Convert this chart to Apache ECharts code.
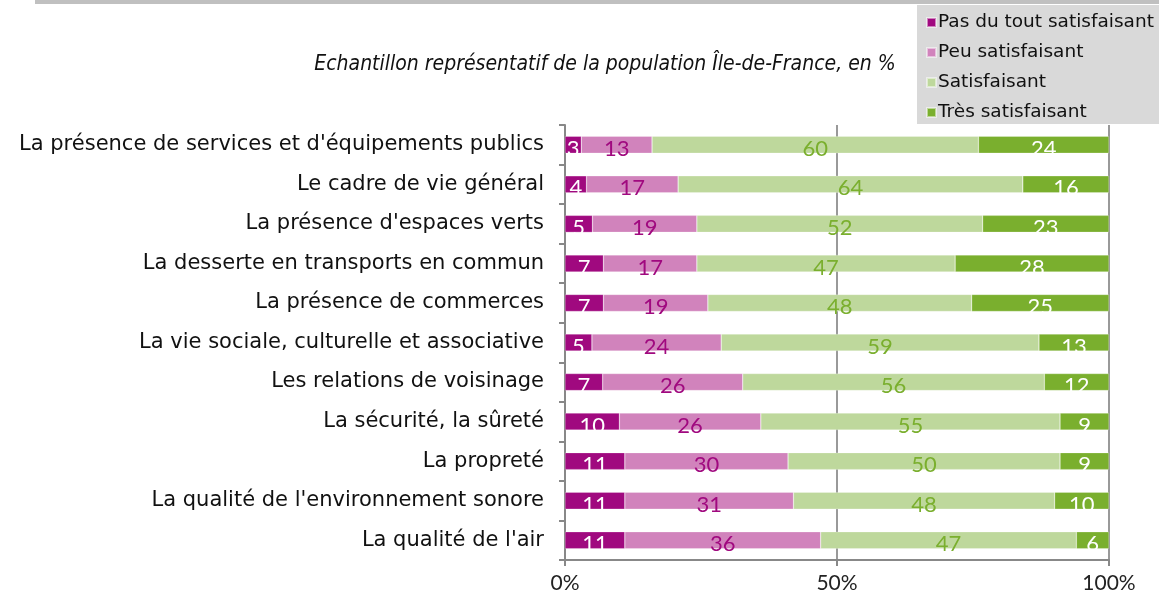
<!DOCTYPE html>
<html>
<head>
<meta charset="utf-8">
<script src="https://cdn.jsdelivr.net/npm/echarts@6/dist/echarts.min.js"></script>
<style>
  html, body { margin: 0; padding: 0; background: #fff; }
  #chart { width: 1159px; height: 598px; }
</style>
</head>
<body>
<div id="chart"></div>
<script>
// categories, top to bottom
const categories = [
  'La présence de services et d\'équipements publics',
  'Le cadre de vie général',
  'La présence d\'espaces verts',
  'La desserte en transports en commun',
  'La présence de commerces',
  'La vie sociale, culturelle et associative',
  'Les relations de voisinage',
  'La sécurité, la sûreté',
  'La propreté',
  'La qualité de l\'environnement sonore',
  'La qualité de l\'air'
]
const seriesNames = ['Pas du tout satisfaisant', 'Peu satisfaisant', 'Satisfaisant', 'Très satisfaisant']
const pasDuTout = [3, 4, 5, 7, 7, 5, 7, 10, 11, 11, 11]
const peu = [13, 17, 19, 17, 19, 24, 26, 26, 30, 31, 36]
const satisfaisant = [60, 64, 52, 47, 48, 59, 56, 55, 50, 48, 47]
const tres = [24, 16, 23, 28, 25, 13, 12, 9, 9, 10, 6]
const xTicks = [0, 50, 100]

const raw = [pasDuTout, peu, satisfaisant, tres]
const colors = ['#a0097f', '#d183bc', '#bed89c', '#7aaf2e']
const labelColors = ['#ffffff', '#a0097f', '#7aaf2e', '#ffffff']

// 100% stacked: each row scaled to its own total
const totals = categories.map((c, i) => raw.reduce((s, arr) => s + arr[i], 0))

const chart = echarts.init(document.getElementById('chart'))
const option = {
  animation: false,
  title: {
    text: 'Echantillon représentatif de la population Île-de-France, en %',
    left: 600,
    top: 49,
    textAlign: 'center',
    textStyle: {
      fontFamily: '"DejaVu Sans Condensed", "Liberation Sans", sans-serif',
      fontStyle: 'italic',
      fontWeight: 'normal',
      fontSize: 21,
      color: '#111'
    }
  },
  graphic: [
    { type: 'rect', shape: { x: 35, y: 0, width: 1124, height: 4 }, style: { fill: '#c0c0c0' } },
    { type: 'rect', shape: { x: 917, y: 5, width: 242, height: 119 }, style: { fill: '#d9d9d9' }, z: -1 }
  ],
  legend: {
    orient: 'vertical',
    left: 921,
    top: 8,
    itemWidth: 9,
    itemHeight: 9,
    itemGap: 11,
    icon: 'rect',
    data: seriesNames,
    textStyle: {
      fontFamily: 'DejaVu Sans',
      fontSize: 18.5,
      lineHeight: 18,
      color: '#111',
      padding: [0, 0, 0, -3]
    }
  },
  grid: {
    left: 565,
    right: 50,
    top: 125,
    bottom: 38
  },
  xAxis: {
    type: 'value',
    min: 0,
    max: 100,
    interval: 50,
    axisLine: { show: true, lineStyle: { color: '#888', width: 2 } },
    axisTick: { show: true, length: 6, lineStyle: { color: '#888', width: 2 } },
    splitLine: { show: true, lineStyle: { color: '#999', width: 2 } },
    axisLabel: {
      margin: 13,
      fontFamily: 'Lato',
      fontSize: 21,
      color: '#222',
      formatter: (v) => xTicks.includes(v) ? v + '%' : ''
    }
  },
  yAxis: {
    type: 'category',
    inverse: true,
    data: categories,
    axisLine: { show: true, lineStyle: { color: '#888', width: 2 } },
    axisTick: { show: true, length: 6, lineStyle: { color: '#888', width: 2 } },
    axisLabel: {
      margin: 21,
      fontFamily: 'DejaVu Sans',
      fontSize: 21,
      color: '#111'
    }
  },
  series: raw.map((arr, si) => ({
    name: seriesNames[si],
    type: 'bar',
    stack: 'total',
    barWidth: '43%',
    itemStyle: { color: colors[si], borderColor: 'rgba(255,255,255,0.5)', borderWidth: 0.5 },
    label: {
      show: true,
      position: 'inside',
      offset: [0, 4],
      fontFamily: 'Lato',
      fontSize: 22,
      color: labelColors[si],
      formatter: (p) => String(arr[p.dataIndex])
    },
    data: arr.map((v, i) => v / totals[i] * 100)
  }))
}
chart.setOption(option)
</script>
</body>
</html>
